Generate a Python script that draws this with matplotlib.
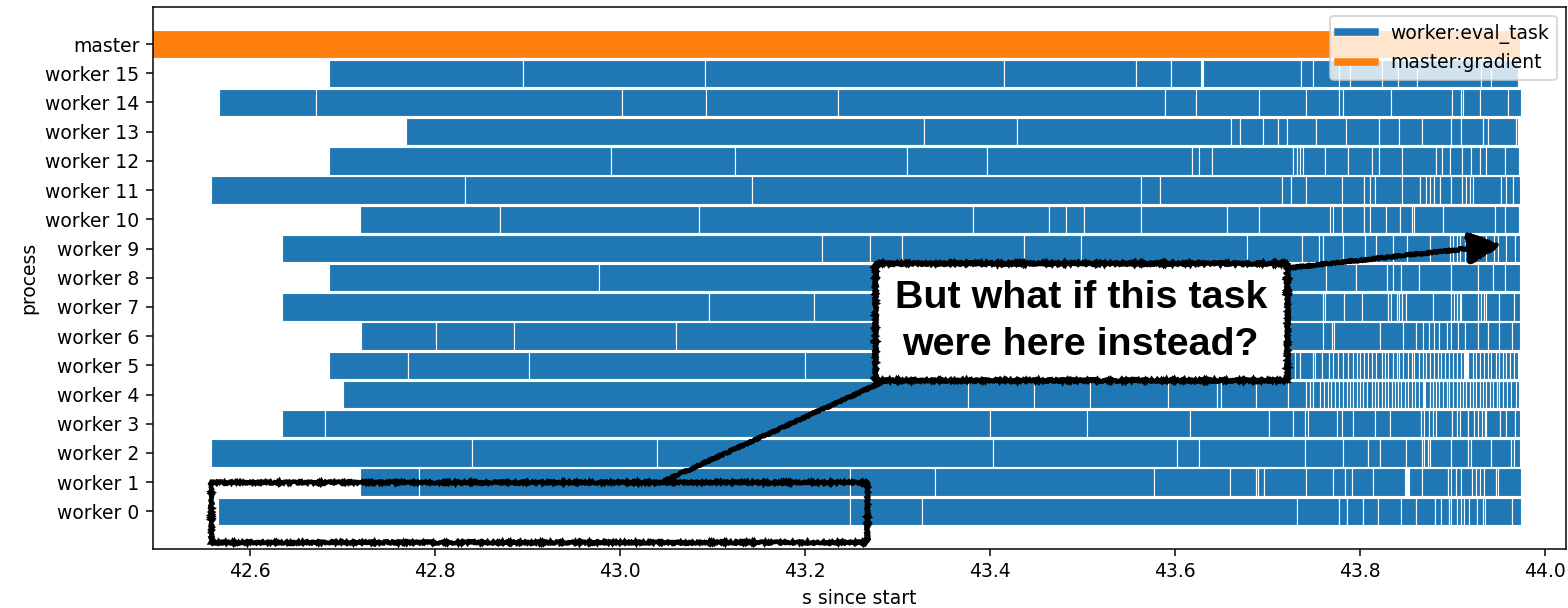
import matplotlib
matplotlib.use("Agg")
import matplotlib.pyplot as plt
from matplotlib.lines import Line2D
from matplotlib.patches import Rectangle

# task boundaries per process (seconds since start); None marks an idle gap
master = [42.40, 43.973]
worker_15 = [42.686, 42.895, 43.092, 43.415, 43.558, 43.596, 43.628, None, 43.631, 43.736, 43.750,
             43.778, 43.789, 43.824, 43.841, 43.862, 43.931, 43.942, 43.971]
worker_14 = [42.567, 42.671, 43.002, 43.093, 43.236, 43.590, 43.623, 43.691, 43.742, 43.778, 43.782,
             43.834, 43.900, 43.909, 43.912, 43.930, 43.960, 43.974]
worker_13 = [42.769, 43.329, 43.429, 43.661, 43.671, 43.695, 43.712, 43.721, 43.753, 43.785, 43.821,
             43.842, 43.867, 43.899, 43.910, 43.933, 43.939, 43.969, 43.971]
worker_12 = [42.686, 42.990, 43.125, 43.311, 43.397, 43.619, 43.626, 43.640, 43.728, 43.732, 43.735,
             43.739, 43.762, 43.787, 43.813, 43.821, 43.846, 43.883, 43.889, 43.898, 43.911, 43.920,
             43.930, 43.937, 43.957, 43.972]
worker_11 = [42.558, 42.833, 43.143, 43.563, 43.584, 43.716, 43.726, 43.742, 43.781, 43.805, 43.811,
             43.817, 43.846, 43.865, 43.872, 43.876, 43.880, 43.887, 43.899, 43.911, 43.915, 43.919,
             43.923, 43.953, 43.958, 43.966, 43.973]
worker_10 = [42.719, 42.871, 43.086, 43.382, 43.464, 43.482, 43.502, 43.563, 43.656, 43.691, 43.768,
             43.771, 43.781, 43.805, 43.811, 43.828, 43.844, 43.856, 43.859, 43.890, 43.946, 43.957,
             43.972]
worker_9 = [42.635, 43.219, 43.270, 43.305, 43.437, 43.499, 43.678, 43.738, 43.756, 43.760, 43.782,
            43.806, 43.818, 43.836, 43.851, 43.876, 43.898, 43.901, 43.905, 43.908, 43.914, 43.919,
            43.937, 43.945, 43.950, 43.958, 43.968, 43.973]
worker_8 = [42.686, 42.978, 43.380, 43.600, 43.764, 43.796, 43.830, 43.836, 43.845, 43.864, 43.899,
            43.928, 43.944, 43.957, 43.973]
worker_7 = [42.635, 43.096, 43.210, 43.420, 43.630, 43.760, 43.763, 43.783, 43.803, 43.831, 43.834,
            43.840, 43.843, 43.846, 43.850, 43.879, 43.899, 43.902, 43.905, 43.908, 43.910, 43.928,
            43.931, 43.934, 43.937, 43.951, 43.967, 43.973]
worker_6 = [42.720, 42.801, 42.886, 43.061, 43.300, 43.520, 43.700, 43.760, 43.770, 43.772, 43.822,
            43.847, 43.861, 43.868, 43.875, 43.880, 43.886, 43.894, 43.899, 43.906, 43.914, 43.928,
            43.939, 43.951, 43.965, 43.973]
worker_5 = [42.686, 42.771, 42.902, 43.200, 43.470, 43.680, 43.730, 43.735, 43.750, 43.752, 43.759,
            43.767, 43.771, 43.777, 43.782, 43.787, 43.793, 43.797, 43.800, 43.805, 43.809, 43.813,
            43.818, 43.824, 43.827, 43.831, 43.836, 43.840, 43.843, 43.847, 43.852, 43.856, 43.859,
            43.864, 43.868, 43.872, 43.876, 43.880, 43.885, 43.888, 43.892, 43.897, 43.901, 43.905,
            43.909, 43.913, None, 43.917, 43.922, 43.926, 43.930, 43.934, 43.939, 43.942, 43.947,
            43.951, 43.955, 43.958, 43.963, 43.967, 43.971]
worker_4 = [42.701, 43.377, 43.448, 43.508, 43.593, 43.646, 43.650, 43.688, 43.722, 43.742, 43.746,
            43.750, 43.757, 43.761, 43.766, 43.769, 43.773, 43.778, 43.782, 43.786, 43.789, 43.793,
            43.797, 43.800, 43.804, 43.808, 43.813, 43.816, 43.820, 43.824, 43.827, 43.831, 43.835,
            43.838, 43.841, 43.845, 43.849, 43.852, 43.857, 43.860, 43.864, 43.868, None, 43.871,
            43.876, 43.879, 43.883, 43.886, 43.890, 43.894, 43.897, 43.901, 43.905, 43.908, 43.912,
            43.915, 43.919, 43.922, 43.926, 43.930, 43.933, 43.937, 43.941, 43.944, 43.948, 43.951,
            43.955, 43.959, 43.964, 43.969, 43.972]
worker_3 = [42.635, 42.681, 43.400, 43.505, 43.616, 43.702, 43.728, 43.741, 43.744, 43.775, 43.781,
            43.793, 43.816, 43.833, 43.866, 43.870, 43.875, 43.879, 43.883, 43.900, 43.905, 43.908,
            43.917, 43.924, 43.928, 43.932, 43.935, 43.937, 43.952, 43.958, 43.968, 43.973]
worker_2 = [42.558, 42.840, 43.040, 43.404, 43.602, 43.626, 43.741, 43.782, 43.809, 43.822, 43.850,
            43.867, 43.870, 43.874, 43.876, 43.899, 43.917, 43.920, 43.942, 43.964, 43.967, 43.973]
worker_1 = [42.719, 42.783, 43.249, 43.341, 43.578, 43.660, 43.688, 43.690, 43.697, 43.742, 43.771,
            43.784, 43.792, 43.814, 43.849, None, 43.853, 43.867, 43.895, 43.899, 43.904, 43.910,
            43.921, 43.926, 43.930, 43.934, 43.947, 43.950, 43.974]
worker_0 = [42.566, 43.249, 43.327, 43.732, 43.778, 43.786, 43.804, 43.820, 43.845, 43.861, 43.881,
            43.888, 43.896, 43.899, 43.905, 43.910, 43.913, 43.918, 43.927, 43.933, 43.935, 43.965,
            43.974]

workers = [worker_0, worker_1, worker_2, worker_3, worker_4, worker_5, worker_6, worker_7,
           worker_8, worker_9, worker_10, worker_11, worker_12, worker_13, worker_14, worker_15]
labels = ["worker %d" % i for i in range(16)] + ["master"]

# annotation geometry (data coords)
note_text = "But what if this task\nwere here instead?"
note_box = (43.276, 4.5, 43.721, 8.5)
task_box = (42.558, -1.04, 43.267, 1.01)
arrow_from = (43.721, 8.33)
arrow_to = (43.953, 9.12)
link_from = (43.289, 4.5)
link_to = (43.046, 1.01)


def spans(bounds):
    out = []
    prev = None
    for t in bounds:
        if t is not None and prev is not None:
            out.append((prev, t - prev))
        prev = t
    return out


fig = plt.figure(figsize=(1568 / 135, 608 / 135), dpi=135)
ax = fig.add_axes([0.0974, 0.0970, 0.9013, 0.8915])

h = 0.94
for i, w in enumerate(workers):
    ax.broken_barh(spans(w), (i - h / 2, h), facecolor="C0", edgecolor="white", linewidth=0.6)
ax.broken_barh(spans(master), (16 - h / 2, h), facecolor="C1", edgecolor="white", linewidth=0.6)

ax.set_yticks(range(17))
ax.set_yticklabels(labels)
ax.set_xlim(42.495, 44.023)
ax.set_ylim(-1.29, 17.27)
ax.set_xlabel("s since start")
ax.set_ylabel("process")

ax.legend([Line2D([0], [0], color="C0", lw=4), Line2D([0], [0], color="C1", lw=4)],
          ["worker:eval_task", "master:gradient"], loc="upper right")

# hand-drawn style callout
sketch = (1.0, 1.5, 3.0)
rect = Rectangle((task_box[0], task_box[1]), task_box[2] - task_box[0], task_box[3] - task_box[1],
                 fill=False, edgecolor="black", lw=2.4, zorder=4)
rect.set_sketch_params(*sketch)
ax.add_patch(rect)

link, = ax.plot([link_from[0], link_to[0]], [link_from[1], link_to[1]], color="black", lw=2.4, zorder=4)
link.set_sketch_params(*sketch)

box = Rectangle((note_box[0], note_box[1]), note_box[2] - note_box[0], note_box[3] - note_box[1],
                facecolor="white", edgecolor="black", lw=2.6, zorder=5)
box.set_sketch_params(*sketch)
ax.add_patch(box)
ax.text((note_box[0] + note_box[2]) / 2, (note_box[1] + note_box[3]) / 2, note_text,
        ha="center", va="center", multialignment="center", fontsize=21, fontweight="bold",
        family="Liberation Sans", linespacing=1.4, zorder=6)

ann = ax.annotate("", xy=arrow_to, xytext=arrow_from, zorder=5,
                  arrowprops=dict(arrowstyle="-|>", color="black", lw=2.4, mutation_scale=37,
                                  shrinkA=0, shrinkB=0))
ann.arrow_patch.set_sketch_params(*sketch)

fig.savefig("out.png", dpi=135)
